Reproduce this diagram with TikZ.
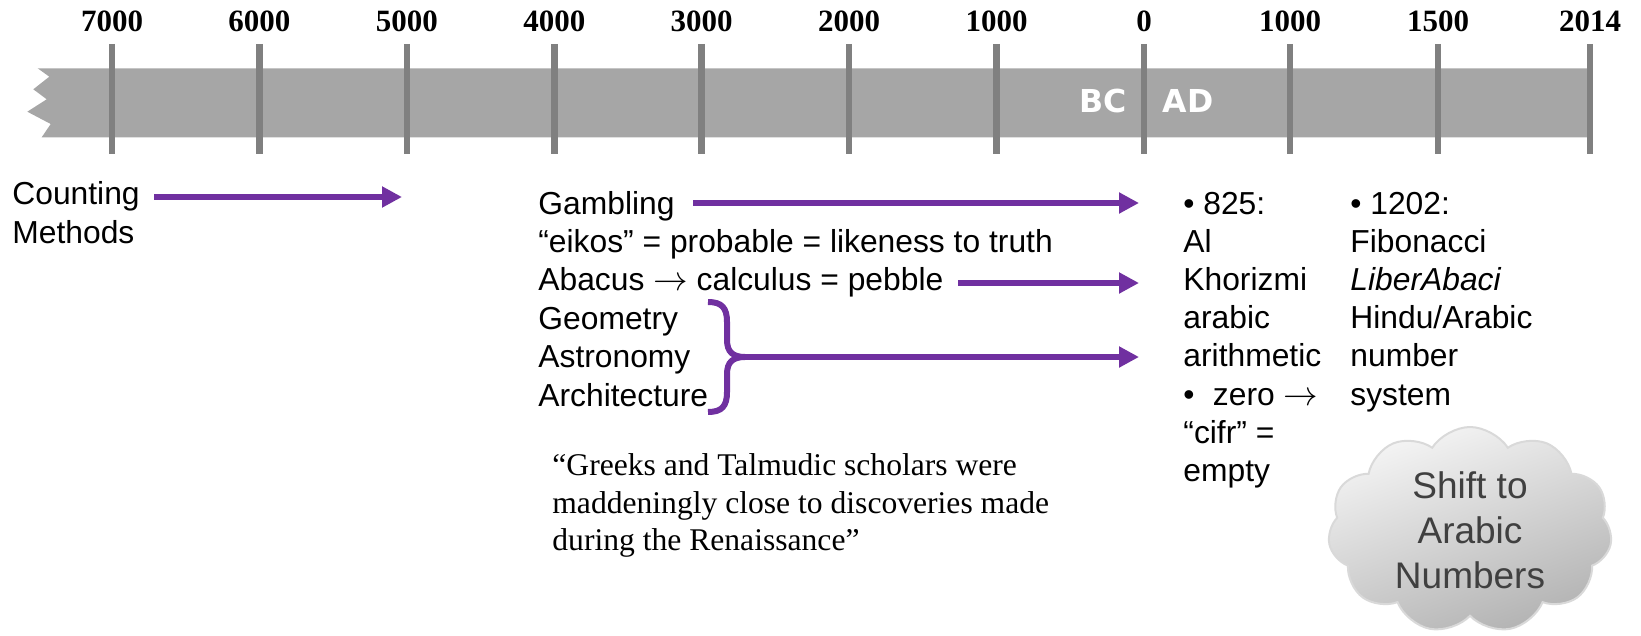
\documentclass[tikz,border=0pt]{standalone}
\usepackage{fontspec}
\setmainfont{Liberation Serif}
\setsansfont{Liberation Sans}
\newfontfamily\heavysans{DejaVu Sans}
\usetikzlibrary{arrows.meta,shapes.symbols}
\definecolor{barfill}{HTML}{A6A6A6}
\definecolor{tickgray}{HTML}{808080}
\definecolor{arrowpurple}{HTML}{7030A0}
\definecolor{cloudtext}{HTML}{404040}
\begin{document}
\begin{tikzpicture}[x=0.5pt,y=-0.5pt,
  body/.style={font=\sffamily\fontsize{15.9}{19}\selectfont, anchor=base west, inner sep=0pt},
  quote/.style={font=\rmfamily\fontsize{15.8}{19}\selectfont, anchor=base west, inner sep=0pt},
  year/.style={font=\rmfamily\bfseries\fontsize{15.5}{19}\selectfont, anchor=base, inner sep=0pt},
  era/.style={font=\heavysans\bfseries\fontsize{15.8}{19}\selectfont, text=white, anchor=base, inner sep=0pt},
  yeartick/.style={draw=tickgray, line width=3.25pt},
  flow/.style={draw=arrowpurple, line width=3pt, -{Triangle[length=10pt,width=10pt]}},
  bracket/.style={draw=arrowpurple, line width=3pt}]
\useasboundingbox (0,0) rectangle (1641,636);

% timeline bar with a torn left edge
\fill[barfill] (37.7,68.3) -- (49.3,76.7) -- (33.3,89.3) -- (46.7,99.3) -- (27.3,111.7)
  -- (50.7,124) -- (41.7,137.3) -- (1587,137.3) -- (1587,68.3) -- cycle;

% year ticks and labels
\foreach \x/\lab [count=\k] in {112/7000, 259.4/6000, 406.9/5000, 554.3/4000, 701.7/3000,
    849.1/2000, 996.6/1000, 1144/0, 1290/1000, 1438/1500, 1590/2014} {
  \draw[yeartick] (\x,44) -- (\x,154);
  \node[year] (yr\k) at (\x,32) {\lab};
}
\node[era] (bc) at (1103,113) {BC};
\node[era] (ad) at (1188,113) {AD};

% counting methods
\node[body] (count1) at (12,205) {Counting};
\node[body] (count2) at (12,243) {Methods};

% ancient topics
\foreach \t [count=\k] in {Gambling, {“eikos” = probable = likeness to truth},
    {Abacus $\rightarrow$ calculus = pebble}, Geometry, Astronomy, Architecture}
  \node[body] (mid\k) at (538,{214+38.4*(\k-1)}) {\t};

% Al Khorizmi
\foreach \t [count=\k] in {{• 825:}, Al, Khorizmi, arabic, arithmetic,
    {•\hspace{0.58em}zero $\rightarrow$}, {“cifr” =}, empty}
  \node[body] (kh\k) at (1183,{214+38.2*(\k-1)}) {\t};

% Fibonacci
\foreach \t [count=\k] in {{• 1202:}, Fibonacci, {\textit{LiberAbaci}}, Hindu/Arabic, number, system}
  \node[body] (fb\k) at (1350,{214+38.2*(\k-1)}) {\t};

% quotation
\node[quote] (q1) at (552,475) {“Greeks and Talmudic scholars were};
\node[quote] (q2) at (552,513) {maddeningly close to discoveries made};
\node[quote] (q3) at (552,550) {during the Renaissance”};

% brace grouping the three sciences
\draw[bracket] (708,302) .. controls (722,302) and (727,308) .. (727,322) -- (727,340)
  .. controls (727,352) and (733,357) .. (745,357)
  .. controls (733,357) and (727,362) .. (727,374) -- (727,392)
  .. controls (727,406) and (722,412) .. (708,412);

% arrow end points
\coordinate (countTail) at (154,197);
\coordinate (countHead) at (402,197);
\coordinate (gambTail) at (693,203);
\coordinate (gambHead) at (1139,203);
\coordinate (abacTail) at (958,283);
\coordinate (abacHead) at (1139,283);
\coordinate (braceTip) at (745,357);
\coordinate (braceHead) at (1139,357);

\draw[flow] (countTail) -- (countHead);
\draw[flow] (gambTail) -- (gambHead);
\draw[flow] (abacTail) -- (abacHead);
\draw[flow] (braceTip) -- (braceHead);

% cloud
\node[cloud, cloud puffs=11, cloud puff arc=115, cloud ignores aspect,
  minimum width=142pt, minimum height=103pt, inner sep=0pt,
  draw=black!15, line width=1pt,
  top color=black!4, bottom color=black!30, shading angle=20,
  text=cloudtext, align=center,
  font=\sffamily\fontsize{18.5}{22.5}\selectfont] (shift) at (1470,530)
  {Shift to\\Arabic\\Numbers};
\end{tikzpicture}
\end{document}
